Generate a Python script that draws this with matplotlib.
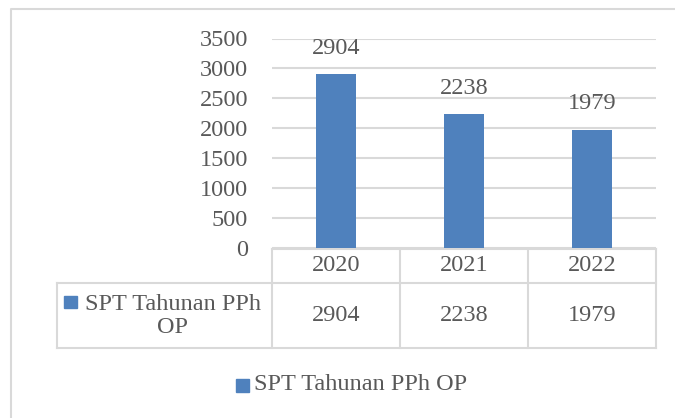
import matplotlib as mpl
import matplotlib.pyplot as plt
from matplotlib.patches import Rectangle
import numpy as np

# data
years = ["2020", "2021", "2022"]
values = [2904, 2238, 1979]
series_name = "SPT Tahunan PPh OP"
yticks = [0, 500, 1000, 1500, 2000, 2500, 3000, 3500]

plt.rcParams["font.family"] = ["Liberation Serif", "DejaVu Serif"]
plt.rcParams["font.size"] = 17.5

W, H = 675, 418
text_col = "#595959"
grid_col = "#d9d9d9"
bar_col = "#4f81bd"

fig = plt.figure(figsize=(W / 100, H / 100), dpi=100)

# overlay in pixel coords for frame, table and legend
ov = fig.add_axes([0, 0, 1, 1])
ov.set_xlim(0, W)
ov.set_ylim(H, 0)
ov.axis("off")

# plot area (pixels): x 272..656, y 38.5..248
px0, px1, py0, py1 = 272, 656, 38.5, 248
ax = fig.add_axes([px0 / W, 1 - py1 / H, (px1 - px0) / W, (py1 - py0) / H])
ax.set_facecolor("none")

x = np.arange(len(years))
bars = ax.bar(x, values, width=0.31, color=bar_col, zorder=3)
ax.set_xlim(-0.5, len(years) - 0.5)
ax.set_ylim(0, 3500)
ax.set_yticks(yticks)
ax.set_yticklabels([str(t) for t in yticks], color=text_col)
ax.tick_params(axis="y", length=0, pad=17.3)
ax.set_xticks([])
ax.grid(axis="y", color=grid_col, lw=1.5, zorder=0)
for s in ax.spines.values():
    s.set_visible(False)

for xi, v in zip(x, values):
    ax.annotate(str(v), (xi, v), xytext=(0, 18.4), textcoords="offset points",
                ha="center", va="center", color=text_col)

# outer chart frame
ov.plot([11, 11, W + 5], [H + 5, 9, 9], color=grid_col, lw=1.5, clip_on=False)

# data table
col_w = (px1 - px0) / len(years)
col_edges = [px0 + i * col_w for i in range(len(years) + 1)]
t_top, t_mid, t_bot, t_left = 248.5, 283, 348, 57
lk = dict(color=grid_col, lw=1.5, solid_capstyle="projecting")
ov.plot([px0, px1], [t_top, t_top], **lk)
ov.plot([t_left, px1], [t_mid, t_mid], **lk)
ov.plot([t_left, px1], [t_bot, t_bot], **lk)
ov.plot([t_left, t_left], [t_mid, t_bot], **lk)
for xe in col_edges:
    ov.plot([xe, xe], [t_top, t_bot], **lk)

for i, (yr, v) in enumerate(zip(years, values)):
    cx = px0 + (i + 0.5) * col_w
    ov.text(cx, (t_top + t_mid) / 2, yr, ha="center", va="center", color=text_col)
    ov.text(cx, (t_mid + t_bot) / 2, str(v), ha="center", va="center", color=text_col)

# row header with legend key
words = series_name.rsplit(" ", 1)
ov.text(173, 316, words[0] + "\n" + words[1], ha="center", va="center",
        multialignment="center", color=text_col, linespacing=1.1)
ov.add_patch(Rectangle((64, 296), 13, 12, color=bar_col))

# legend below
ov.add_patch(Rectangle((236, 378.5), 13, 13, color=bar_col))
ov.text(254, 385, series_name, ha="left", va="center", color=text_col)

fig.savefig("out.png", dpi=100)
